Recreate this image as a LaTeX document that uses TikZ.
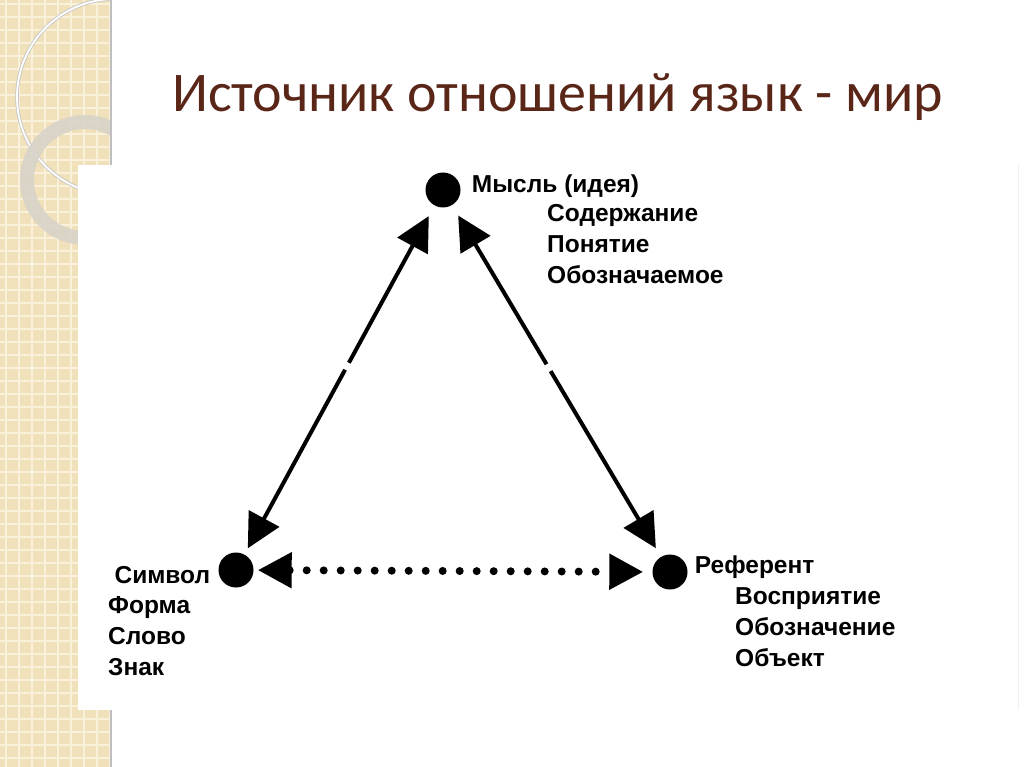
\documentclass[tikz,border=0pt]{standalone}
\usepackage{fontspec}
\setmainfont{Carlito}
\setsansfont{Liberation Sans}
\usetikzlibrary{arrows.meta,positioning}

\definecolor{titlebrown}{RGB}{90,38,24}
\definecolor{stripbeige}{RGB}{241,225,186}
\definecolor{gridbeige}{RGB}{250,241,218}
\definecolor{ringgray}{RGB}{214,210,202}

\tikzset{
  dot/.style={circle, fill=black, inner sep=0pt, minimum size=35pt},
  lbl/.style={font=\sffamily\bfseries\fontsize{24.5}{31}\selectfont, inner sep=0pt, align=left},
  link/.style={line width=4pt, {Triangle[length=34pt,width=34pt]}-{Triangle[length=34pt,width=34pt]}},
  dotlink/.style={link, line width=8pt, line cap=round, dash pattern=on 0pt off 17pt},
}

\begin{document}
\begin{tikzpicture}[x=1pt,y=-1pt]
  \useasboundingbox (0,0) rectangle (1024,767);

  % Background strip
  \fill[stripbeige] (0,0) rectangle (110,767);
  \foreach \gx in {6,19,...,110}
    \draw[gridbeige, line width=1.2pt] (\gx,0) -- (\gx,767);
  \foreach \gy in {4,17,...,767}
    \draw[gridbeige, line width=1.2pt] (0,\gy) -- (110,\gy);
  \begin{scope}
    \clip (0,0) rectangle (110,767);
    \draw[gray!45, line width=3.5pt] (115,97) circle[radius=98pt];
    \draw[white, line width=1.8pt] (115,97) circle[radius=98pt];
    \draw[ringgray, line width=14pt, opacity=0.85] (85,180) circle[radius=58pt];
  \end{scope}
  \draw[gray!50, line width=2pt] (111,0) -- (111,767);

  % Title
  \node[anchor=base west, inner sep=0pt, text=titlebrown,
        font=\fontsize{56}{60}\selectfont] (title) at (172,112) {Источник отношений язык - мир};

  % Picture
  \fill[white] (78,165) rectangle (1018,710);
  \draw[gray!12, line width=1pt] (1018,165) -- (1018,710);

  % Nodes
  \node[dot] (idea)     at (443,190) {};
  \node[dot] (symbol)   at (236,570) {};
  \node[dot] (referent) at (670,572) {};

  \node[lbl, right=11pt of idea, yshift=4pt]      (ideaname)     {Мысль (идея)};
  \node[lbl, anchor=north west] (idealist) at (547,204) {Содержание\\Понятие\\Обозначаемое};

  \node[lbl, left=8pt of symbol, yshift=-5pt]     (symbolname)   {Символ};
  \node[lbl, anchor=north west] (symbollist) at (108,596) {Форма\\Слово\\Знак};

  \node[lbl, right=7pt of referent, yshift=5pt]   (referentname) {Референт};
  \node[lbl, anchor=north west] (referentlist) at (735,587) {Восприятие\\Обозначение\\Объект};

  % Edges
  \draw[link, shorten <=12pt, shorten >=7pt, dash pattern=on 134pt off 8pt on 600pt]  (idea) -- (symbol);
  \draw[link, shorten <=12pt, shorten >=10pt, dash pattern=on 140pt off 8pt on 600pt] (idea) -- (referent);
  \draw[dotlink, shorten <=4pt, shorten >=9pt] (symbol) -- (referent);

\end{tikzpicture}
\end{document}
